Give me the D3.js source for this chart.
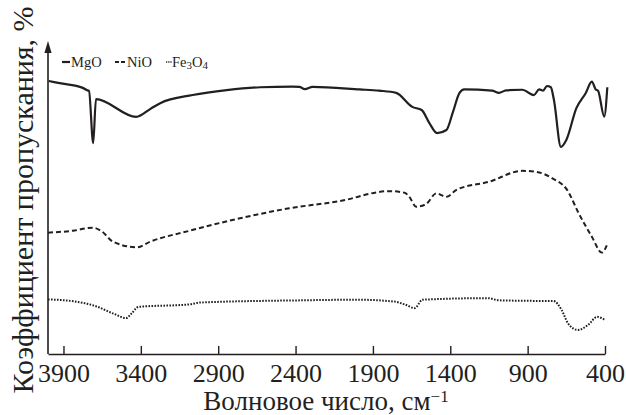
<!DOCTYPE html>
<html>
<head>
<meta charset="utf-8">
<script src="https://cdn.jsdelivr.net/npm/d3@7"></script>
<style>
  body { margin: 0; background: #fff; }
  svg text { font-family: "Liberation Serif", "DejaVu Serif", "Times New Roman", Times, serif; fill: #231f20; }
</style>
</head>
<body>
<script>
// IR spectra, wavenumber (cm-1) vs transmittance (arbitrary %, curves offset)
let xTicks = [3900, 3400, 2900, 2400, 1900, 1400, 900, 400];
let seriesNames = ["MgO", "NiO", "Fe3O4"];

let mgo = [
  [3995, 87.5], [3925, 86.8], [3775, 85.3], [3750, 84.6], [3735, 84.3],
  [3708, 67.6], [3690, 81.7], [3430, 76.0], [3340, 78.5], [3275, 80.4],
  [3065, 83.0], [2845, 84.6], [2630, 85.5], [2420, 85.7], [2375, 85.6],
  [2340, 84.9], [2290, 85.6], [1985, 84.8], [1860, 84.4], [1750, 83.7],
  [1645, 79.2], [1585, 78.2], [1535, 74.0], [1485, 70.8], [1425, 71.8],
  [1385, 77.2], [1340, 83.7], [1310, 84.8], [1130, 84.4], [1085, 83.7],
  [1040, 84.5], [935, 84.7], [860, 83.0], [825, 84.8], [800, 84.4],
  [775, 85.9], [750, 85.5], [730, 81.4], [685, 66.4], [650, 68.6],
  [585, 78.8], [525, 83.6], [485, 87.3], [460, 84.8], [445, 84.4],
  [405, 76.1], [385, 85.5]
];

let nio = [
  [4000, 38.9], [3840, 39.5], [3710, 40.5], [3650, 39.2], [3580, 36.0],
  [3425, 34.2], [3340, 36.0], [3085, 39.5], [2760, 43.5], [2440, 46.7],
  [2115, 49.0], [1795, 52.2], [1695, 51.7], [1665, 50.4], [1620, 47.2],
  [1555, 48.1], [1490, 51.5], [1425, 50.4], [1360, 52.6], [1150, 55.2],
  [935, 58.7], [845, 58.4], [740, 56.3], [645, 52.6], [570, 45.1],
  [485, 37.6], [420, 32.5], [385, 35.2]
];

let fe3o4 = [
  [4000, 17.5], [3835, 16.9], [3690, 15.3], [3570, 12.8], [3495, 11.5],
  [3460, 13.0], [3415, 15.1], [3085, 15.9], [3015, 16.5], [2365, 17.2],
  [2000, 17.4], [1760, 16.8], [1690, 15.8], [1630, 14.7], [1580, 17.4],
  [1155, 17.9], [1085, 17.2], [750, 17.0], [735, 17.0], [680, 14.1],
  [640, 9.9], [575, 7.7], [510, 9.3], [450, 11.9], [400, 10.9]
];

let W = 626, H = 415;
let serif = "'Liberation Serif', 'DejaVu Serif', 'Times New Roman', serif";

let svg = d3.select("body").append("svg")
  .attr("width", W)
  .attr("height", H)
  .attr("font-family", serif);

let x = d3.scaleLinear().domain([4000, 400]).range([48, 605]);
let y = d3.scaleLinear().domain([0, 100]).range([354, 42]);

// x axis, ticks pointing up
let xAxis = d3.axisBottom(x)
  .tickValues(xTicks)
  .tickSize(-8)
  .tickSizeOuter(0)
  .tickPadding(10)
  .tickFormat(d3.format("d"));

let gx = svg.append("g")
  .attr("transform", "translate(0," + y(0) + ")")
  .call(xAxis)
  .attr("font-family", serif)
  .attr("font-size", 26);
gx.select(".domain").attr("stroke", "#231f20").attr("stroke-width", 1.6);
gx.selectAll(".tick line").attr("stroke", "#231f20").attr("stroke-width", 1.4);
gx.selectAll(".tick text").attr("fill", "#231f20");

// y axis: plain line with arrow
svg.append("line")
  .attr("x1", x(4000)).attr("x2", x(4000))
  .attr("y1", y(0)).attr("y2", 50)
  .attr("stroke", "#231f20").attr("stroke-width", 1.6);
svg.append("path")
  .attr("d", "M" + (x(4000) - 3.6) + ",53 L" + x(4000) + ",41 L" + (x(4000) + 3.6) + ",53 Z")
  .attr("fill", "#231f20");

// lines
let line = d3.line()
  .x(function(d) { return x(d[0]); })
  .y(function(d) { return y(d[1]); })
  .curve(d3.curveMonotoneX);

let styles = [
  { data: mgo, dash: null, width: 2.2 },
  { data: nio, dash: "5,3", width: 2 },
  { data: fe3o4, dash: "1.6,1.4", width: 2 }
];

styles.forEach(function(s) {
  svg.append("path")
    .datum(s.data)
    .attr("d", line)
    .attr("fill", "none")
    .attr("stroke", "#231f20")
    .attr("stroke-width", s.width)
    .attr("stroke-dasharray", s.dash);
});

// legend
let legend = svg.append("g").attr("font-size", 14.5);
let legY = 62;

legend.append("line").attr("x1", 62).attr("x2", 70).attr("y1", legY).attr("y2", legY)
  .attr("stroke", "#231f20").attr("stroke-width", 2.2);
legend.append("text").attr("x", 71).attr("y", legY + 5).text(seriesNames[0]);

legend.append("line").attr("x1", 115).attr("x2", 126).attr("y1", legY).attr("y2", legY)
  .attr("stroke", "#231f20").attr("stroke-width", 2).attr("stroke-dasharray", "4,2");
legend.append("text").attr("x", 127).attr("y", legY + 5).text(seriesNames[1]);

legend.append("line").attr("x1", 166).attr("x2", 172).attr("y1", legY).attr("y2", legY)
  .attr("stroke", "#231f20").attr("stroke-width", 1.6).attr("stroke-dasharray", "1.2,1");
let fe = legend.append("text").attr("x", 172).attr("y", legY + 5);
fe.append("tspan").text("Fe");
fe.append("tspan").attr("font-size", 11).attr("dy", 2).text("3");
fe.append("tspan").attr("dy", -2).text("O");
fe.append("tspan").attr("font-size", 11).attr("dy", 2).text("4");

// axis titles
let xt = svg.append("text")
  .attr("x", 326)
  .attr("y", 410)
  .attr("text-anchor", "middle")
  .attr("font-size", 27);
xt.append("tspan").text("Волновое число, см");
xt.append("tspan").attr("font-size", 17).attr("dy", -8).text("\u22121");

svg.append("text")
  .attr("transform", "translate(33,200) rotate(-90)")
  .attr("text-anchor", "middle")
  .attr("font-size", 30)
  .text("Коэффициент пропускания, %");
</script>
</body>
</html>
